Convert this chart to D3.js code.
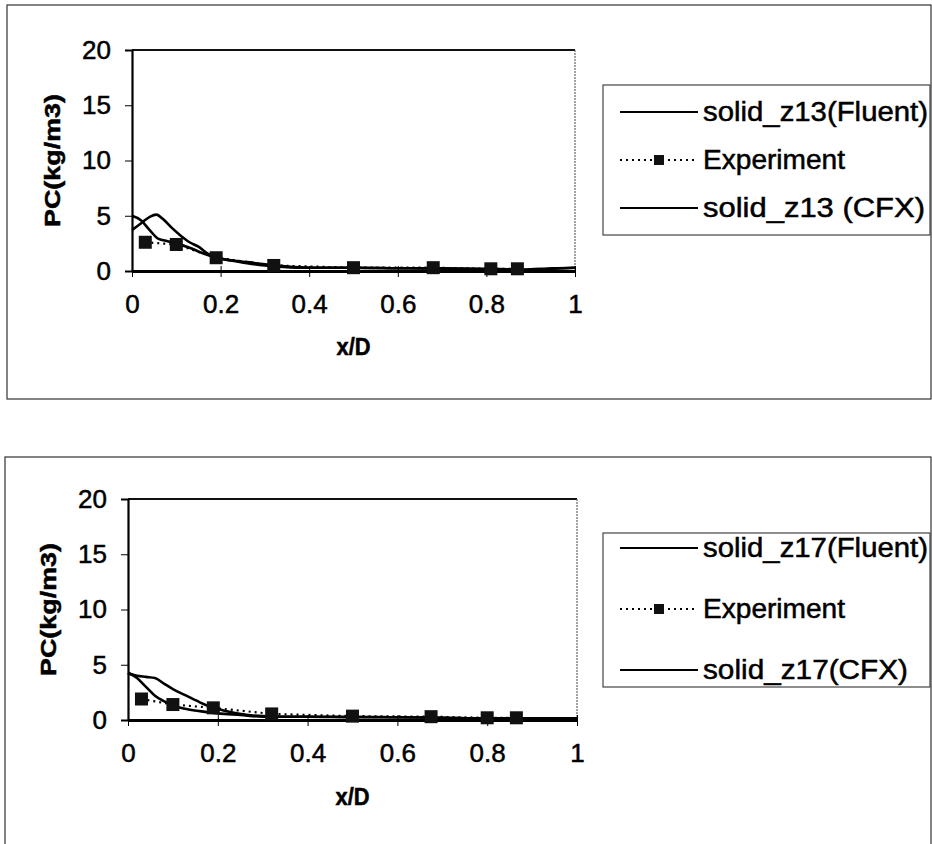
<!DOCTYPE html>
<html>
<head>
<meta charset="utf-8">
<script src="https://cdn.jsdelivr.net/npm/d3@7"></script>
<style>
  body { margin: 0; background: #fff; }
  text { font-family: "Liberation Sans", Arial, sans-serif; fill: #000; stroke: #000; stroke-width: 0.5px; }
</style>
</head>
<body>
<div id="chart"></div>
<script>
// tick values shared by both panels
var xTicks = [0, 0.2, 0.4, 0.6, 0.8, 1];
var yTicks = [0, 5, 10, 15, 20];

// panel 1 : z13
var z13Names = ["solid_z13(Fluent)", "Experiment", "solid_z13 (CFX)"];
var z13ExpX = [0.03, 0.10, 0.19, 0.32, 0.50, 0.68, 0.81, 0.87];
var z13ExpY = [2.6, 2.4, 1.2, 0.5, 0.3, 0.3, 0.2, 0.2];
var z13FluentX = [0, 0.02, 0.04, 0.06, 0.08, 0.1, 0.13, 0.16, 0.19, 0.22, 0.26, 0.3, 0.35, 0.4, 0.5, 0.6, 0.7, 0.8, 0.85, 0.9, 0.95, 1];
var z13FluentY = [5.0, 4.6, 3.7, 2.9, 2.7, 2.5, 2.1, 1.6, 1.2, 1.0, 0.8, 0.6, 0.4, 0.3, 0.3, 0.25, 0.25, 0.2, 0.15, 0.1, 0.2, 0.3];
var z13CfxX = [0, 0.02, 0.04, 0.055, 0.07, 0.09, 0.11, 0.13, 0.15, 0.17, 0.2, 0.23, 0.26, 0.3, 0.35, 0.4, 0.5, 0.6, 0.7, 0.8, 0.87, 0.9, 0.95, 1];
var z13CfxY = [3.7, 4.3, 4.9, 5.1, 4.7, 3.9, 3.2, 2.6, 2.2, 1.6, 1.1, 0.9, 0.7, 0.5, 0.35, 0.3, 0.3, 0.25, 0.2, 0.15, 0.1, 0.15, 0.25, 0.3];

// panel 2 : z17
var z17Names = ["solid_z17(Fluent)", "Experiment", "solid_z17(CFX)"];
var z17ExpX = [0.03, 0.10, 0.19, 0.32, 0.50, 0.675, 0.80, 0.865];
var z17ExpY = [1.9, 1.4, 1.1, 0.55, 0.35, 0.3, 0.2, 0.2];
var z17FluentX = [0, 0.02, 0.04, 0.06, 0.08, 0.1, 0.13, 0.16, 0.2, 0.25, 0.3, 0.4, 0.5, 0.6, 0.7, 0.8, 0.9, 1];
var z17FluentY = [4.3, 3.8, 3.0, 2.2, 1.7, 1.3, 1.0, 0.8, 0.6, 0.45, 0.3, 0.3, 0.25, 0.25, 0.2, 0.15, 0.15, 0.15];
var z17CfxX = [0, 0.02, 0.04, 0.06, 0.08, 0.1, 0.13, 0.16, 0.19, 0.22, 0.26, 0.3, 0.35, 0.4, 0.5, 0.6, 0.7, 0.8, 0.9, 1];
var z17CfxY = [4.2, 4.0, 3.9, 3.8, 3.3, 2.8, 2.2, 1.6, 1.1, 0.8, 0.5, 0.35, 0.3, 0.3, 0.3, 0.25, 0.2, 0.15, 0.15, 0.15];

function zip(xs, ys) { return xs.map(function(d, i) { return [d, ys[i]]; }); }

var svg = d3.select("#chart")
  .append("svg")
    .attr("width", 932)
    .attr("height", 844);

svg.append("rect").attr("width", 932).attr("height", 844).attr("fill", "#fff");

function drawPanel(p) {
  // outer chart frame
  svg.append("rect")
    .attr("x", p.frame[0]).attr("y", p.frame[1])
    .attr("width", p.frame[2]).attr("height", p.frame[3])
    .attr("fill", "none").attr("stroke", "#333").attr("stroke-width", 1.2);

  var x = d3.scaleLinear().domain([0, 1]).range([p.left, p.right]);
  var y = d3.scaleLinear().domain([0, 20]).range([p.bottom, p.top]);

  var g = svg.append("g");

  // plot area border (top + right)
  g.append("line")
    .attr("x1", p.left).attr("x2", p.right).attr("y1", p.top).attr("y2", p.top)
    .attr("stroke", "#111").attr("stroke-width", 1.8);
  g.append("line")
    .attr("x1", p.right).attr("x2", p.right).attr("y1", p.top).attr("y2", p.bottom)
    .attr("stroke", "#666").attr("stroke-width", 1.2).attr("stroke-dasharray", "2,1");

  // y axis
  var ya = g.append("g")
    .attr("transform", "translate(" + p.left + ",0)")
    .call(d3.axisLeft(y).tickValues(yTicks).tickSize(7).tickPadding(14).tickFormat(d3.format("d")));
  ya.select(".domain").attr("stroke-width", 2.2);
  ya.selectAll("text").attr("font-size", 26).attr("font-family", null);

  // x axis
  var xa = g.append("g")
    .attr("transform", "translate(0," + p.bottom + ")")
    .call(d3.axisBottom(x).tickValues(xTicks).tickSizeInner(6).tickSizeOuter(0).tickPadding(18)
      .tickFormat(function(d) { return d === 0 || d === 1 ? String(d) : d3.format(".1f")(d); }));
  xa.select(".domain").attr("stroke-width", 2.8);
  xa.selectAll(".tick line").attr("y1", -5);
  xa.selectAll("text").attr("font-size", 26).attr("font-family", null);

  // axis titles
  g.append("text")
    .attr("transform", "translate(" + p.ytitleX + "," + (p.top + p.bottom) / 2 + ") rotate(-90)")
    .attr("text-anchor", "middle").attr("dy", "0.35em")
    .attr("textLength", 133).attr("lengthAdjust", "spacingAndGlyphs")
    .attr("font-size", 22).attr("font-weight", "bold")
    .text("PC(kg/m3)");
  g.append("text")
    .attr("x", (p.left + p.right) / 2).attr("y", p.xtitleY)
    .attr("text-anchor", "middle").attr("dy", "0.35em")
    .attr("textLength", 34).attr("lengthAdjust", "spacingAndGlyphs")
    .attr("font-size", 23).attr("font-weight", "bold")
    .text("x/D");

  var line = d3.line()
    .x(function(d) { return x(d[0]); })
    .y(function(d) { return y(d[1]); });

  // experiment: dotted line + square markers
  var exp = zip(p.expX, p.expY);
  g.append("path")
    .datum(exp)
    .attr("d", line)
    .attr("fill", "none").attr("stroke", "#000").attr("stroke-width", 2.2)
    .attr("stroke-dasharray", "2,4");

  // simulations
  var smooth = d3.line()
    .x(function(d) { return x(d[0]); })
    .y(function(d) { return y(d[1]); })
    .curve(d3.curveMonotoneX);
  [zip(p.fluentX, p.fluentY), zip(p.cfxX, p.cfxY)].forEach(function(s) {
    g.append("path")
      .datum(s)
      .attr("d", smooth)
      .attr("fill", "none").attr("stroke", "#000").attr("stroke-width", 2.6);
  });

  g.selectAll(".sq")
    .data(exp)
    .enter().append("rect")
      .attr("x", function(d) { return x(d[0]) - 6.5; })
      .attr("y", function(d) { return y(d[1]) - 6.5; })
      .attr("width", 13).attr("height", 13)
      .attr("fill", "#111");

  // legend
  var lg = svg.append("g");
  lg.append("rect")
    .attr("x", p.legend[0]).attr("y", p.legend[1])
    .attr("width", p.legend[2]).attr("height", p.legend[3])
    .attr("fill", "#fff").attr("stroke", "#444").attr("stroke-width", 1.2);

  p.names.forEach(function(name, i) {
    var ly = p.legend[1] + p.legendFirst + i * p.legendStep;
    var lx = p.legend[0] + 17;
    lg.append("line")
      .attr("x1", lx).attr("x2", lx + 78).attr("y1", ly).attr("y2", ly)
      .attr("stroke", "#000")
      .attr("stroke-width", i === 1 ? 2 : 1.8)
      .attr("stroke-dasharray", i === 1 ? "2,4" : null);
    if (i === 1) {
      lg.append("rect")
        .attr("x", lx + 34).attr("y", ly - 5).attr("width", 10).attr("height", 10)
        .attr("fill", "#111");
    }
    lg.append("text")
      .attr("x", lx + 83).attr("y", ly).attr("dy", "0.35em")
      .attr("textLength", p.textLen[i]).attr("lengthAdjust", "spacingAndGlyphs")
      .attr("font-size", 27)
      .text(name);
  });
}

drawPanel({
  frame: [7, 5, 924, 394],
  left: 132, right: 575, top: 50, bottom: 271,
  ytitleX: 52, xtitleY: 347,
  legend: [603, 85, 327, 150], legendFirst: 27, legendStep: 48,
  textLen: [225, 142, 222],
  names: z13Names,
  expX: z13ExpX, expY: z13ExpY,
  fluentX: z13FluentX, fluentY: z13FluentY,
  cfxX: z13CfxX, cfxY: z13CfxY
});

drawPanel({
  frame: [5, 457, 926, 400],
  left: 128, right: 577, top: 499, bottom: 720,
  ytitleX: 48, xtitleY: 797,
  legend: [603, 533, 327, 154], legendFirst: 15, legendStep: 61,
  textLen: [225, 142, 205],
  names: z17Names,
  expX: z17ExpX, expY: z17ExpY,
  fluentX: z17FluentX, fluentY: z17FluentY,
  cfxX: z17CfxX, cfxY: z17CfxY
});
</script>
</body>
</html>
